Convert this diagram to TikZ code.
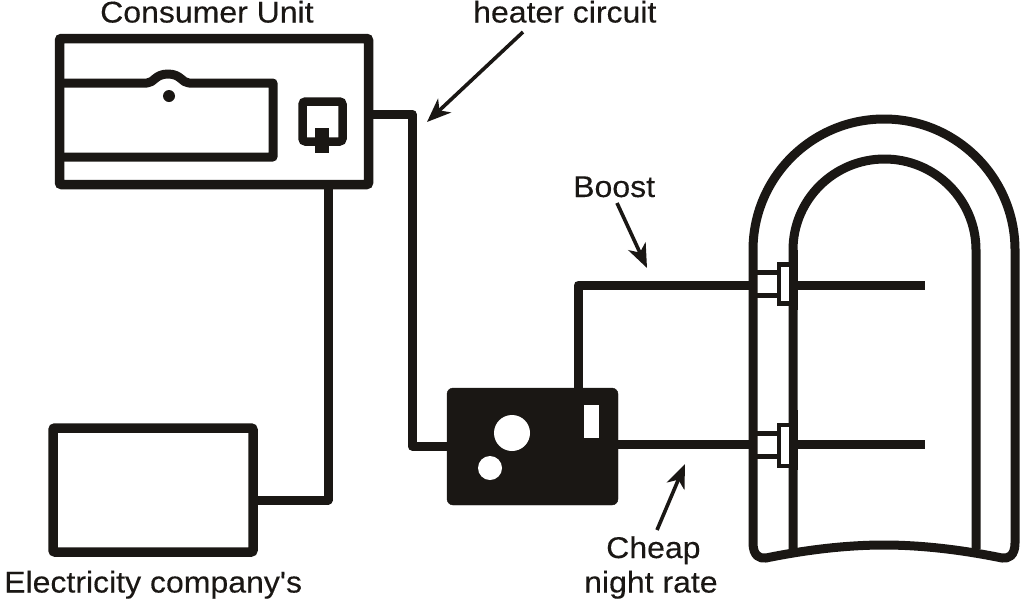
\documentclass[tikz,border=0pt]{standalone}
\usepackage{fontspec}
\newfontfamily\labfont[FakeBold=0.25,FakeStretch=1.067]{Liberation Sans}
\usetikzlibrary{arrows.meta,calc}
\definecolor{ink}{HTML}{1A1714}
\tikzset{
  wire/.style={draw=ink,line width=9pt,line join=round},
  thin wire/.style={draw=ink,line width=5pt,line join=miter},
  boxnode/.style={draw=ink,line width=9.5pt,rounded corners=2pt,inner sep=0pt,outer sep=0pt,anchor=north west},
  label/.style={font=\labfont\fontsize{30}{34}\selectfont,text=ink,inner sep=0pt,anchor=base west},
  pointer/.style={draw=ink,line width=3.6pt,-{Stealth[length=24pt,width=19pt,inset=7pt]}},
  flange/.style={draw=ink,fill=white,line width=4.5pt,inner sep=0pt,outer sep=0pt,anchor=north west},
}
\begin{document}
\begin{tikzpicture}[x=1pt,y=-1pt]
\useasboundingbox (0,0) rectangle (1024,600);
\clip (0,0) rectangle (1024,600);
% labels
\node[label] (lcu) at (100,22.5) {Consumer Unit};
\node[label] (lhc) at (473,22.5) {heater circuit};
\node[label] (lbo) at (573,197) {Boost};
\node[label] (lch) at (606,558) {Cheap};
\node[label] (lni) at (584,592.5) {night rate};
\node[label] (lel) at (4,592.5) {Electricity company's};
% boxes
\node[boxnode,minimum width=309pt,minimum height=146pt] (cu) at (59.5,38.5) {};
\node[boxnode,minimum width=200pt,minimum height=124pt] (el) at (53,428) {};
\node[draw=ink,fill=ink,rounded corners=6pt,inner sep=0pt,outer sep=0pt,anchor=north west,minimum width=171pt,minimum height=117pt] (ctl) at (447,388) {};
% breaker panel in consumer unit
\draw[wire] (60,83) -- (147,83) .. controls (154,83) and (155,74) .. (168,74) .. controls (181,74) and (182,83) .. (189,83) -- (273,83) -- (273,157) -- (60,157);
\fill[ink] (169,96) circle (6pt);
% socket
\node[draw=ink,line width=8.5pt,rounded corners=3pt,inner sep=0pt,outer sep=0pt,anchor=north west,minimum width=40pt,minimum height=40pt] (sock) at (302.5,101.5) {};
\fill[ink] (315,128) rectangle (329,153);
% controller details
\fill[white] (512,433) circle (18pt);
\fill[white] (490,468) circle (12pt);
\fill[white] (584,405) rectangle (599,438);
% tank
\coordinate (tl) at (753,250);
\coordinate (tr) at (1015,250);
\coordinate (il) at (793,250);
\coordinate (ir) at (976,250);
\draw[wire] (tl) -- (753,543) .. controls (753,556) and (760,559) .. (766,558)
  .. controls (810,549) and (850,545) .. (884,545)
  .. controls (918,545) and (958,549) .. (1002,558)
  .. controls (1008,559) and (1015,556) .. (1015,543) -- (tr)
  arc[start angle=0,end angle=-180,x radius=131,y radius=131] -- cycle;
\draw[wire] (793,549) -- (il) arc[start angle=180,end angle=360,x radius=91.5,y radius=91] -- (976,549);
% immersion heaters
\coordinate (hu) at (925,285);
\coordinate (hl) at (925,444);
\coordinate (bu) at (753,285);
\coordinate (bl) at (753,444);
\draw[thin wire] (753,272) -- (780,272);
\draw[thin wire] (753,295) -- (780,295);
\draw[thin wire] (753,433) -- (780,433);
\draw[thin wire] (753,456) -- (780,456);
\node[flange,minimum width=13pt,minimum height=39pt] (fu) at (779,264.5) {};
\node[flange,minimum width=13pt,minimum height=41pt] (fl) at (779,425) {};
\draw[wire] (793,285) -- (hu);
\draw[wire] (793,444) -- (hl);
\draw[wire] (793,250) -- (793,310);
\draw[wire] (793,410) -- (793,470);
% wiring
\draw[wire] (cu.east |- 412,114) -- (412,114) -- (412,446) -- (ctl.west |- 412,446);
\draw[wire] (cu.south -| 328,0) -- (328,500) -- (el.east |- 328,500);
\draw[wire] (578,388) -- (578,285) -- (bu);
\draw[wire] (ctl.east |- bl) -- (bl);
% pointers
\coordinate (p1) at (427,122);
\coordinate (p2) at (647,268);
\coordinate (p3) at (685,464);
\draw[pointer] (523,32) -- (p1);
\draw[pointer] (617,203) -- (p2);
\draw[pointer] (657,530) -- (p3);
\end{tikzpicture}
\end{document}
